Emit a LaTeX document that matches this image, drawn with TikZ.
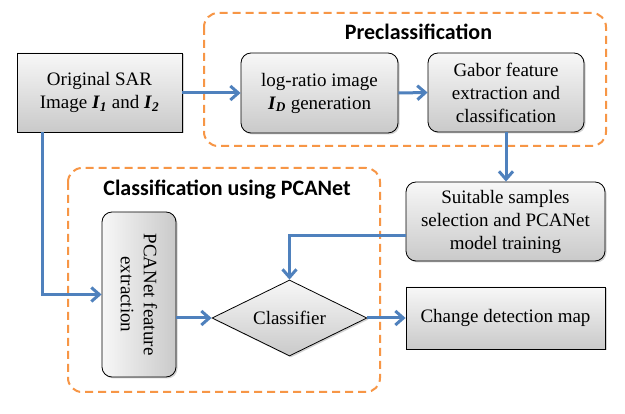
\documentclass[tikz,border=0pt]{standalone}
\usepackage{fontspec}
\setmainfont{Liberation Serif}
\setsansfont{Carlito}
\usetikzlibrary{shapes.geometric,arrows.meta,shadows}
\definecolor{arrowblue}{HTML}{4F81BD}
\definecolor{dashorange}{HTML}{F79646}
\newcommand\myI[1]{\textbf{\textit{I}}\textsubscript{\textbf{\textit{#1}}}}
\begin{document}
\fontsize{19}{23}\selectfont
\begin{tikzpicture}[x=1pt,y=-1pt,
  box/.style={draw=black, line width=0.8pt, top color=gray!6, bottom color=gray!42,
    align=center, inner sep=0pt,
    drop shadow={shadow xshift=1.5pt, shadow yshift=-1.5pt, opacity=0.35}},
  rbox/.style={box, rounded corners=10pt},
  flow/.style={draw=arrowblue, line width=3pt, -{Straight Barb[length=8pt,width=14pt]}},
  group/.style={draw=dashorange, line width=2pt, dash pattern=on 8pt off 5pt, rounded corners=14pt},
  grouptitle/.style={font=\sffamily\bfseries\fontsize{22}{26}\selectfont}]
\fill[white] (0,0) rectangle (625,414);
\useasboundingbox (0,0) rectangle (625,414);

\draw[group] (204,13) rectangle (606,146);
\draw[group] (68,168) rectangle (380,392);

\node[box, minimum width=165pt, minimum height=79pt] (sar) at (99.5,92.5) {Original SAR\\Image \myI{1} and \myI{2}};
\node[rbox, minimum width=157pt, minimum height=80pt] (logr) at (319.5,93) {log-ratio image\\\myI{D} generation};
\node[rbox, minimum width=156pt, minimum height=79pt] (gabor) at (506,92.5) {Gabor feature\\extraction and\\classification};
\node[rbox, minimum width=199pt, minimum height=79pt] (suit) at (505.5,221.5) {Suitable samples\\selection and PCANet\\model training};
\node[rbox, rotate=-90, left color=gray!6, right color=gray!42, minimum width=165pt, minimum height=74pt] (pca) at (139,294.5) {PCANet feature\\extraction};
\node[box, diamond, aspect=2, minimum width=155pt, minimum height=76pt] (cls) at (289.5,318) {Classifier};
\node[box, minimum width=199pt, minimum height=62pt] (change) at (505.5,318) {Change detection map};

\node[grouptitle] (pret) at (418.5,32) {Preclassification};
\node[grouptitle] (cgrpt) at (227,190) {Classification using PCANet};

\draw[flow] (sar.east |- logr.west) -- (logr.west);
\draw[flow] (logr.east) -- (gabor.west);
\draw[flow] (gabor.south) -- (gabor.south |- suit.north);
\draw[flow] ([xshift=-57.5pt]sar.south) |- (pca.south);
\draw[flow] ([yshift=-14.5pt]suit.west) -| (cls.north);
\draw[flow] (pca.north |- cls.west) -- (cls.west);
\draw[flow] (cls.east) -- (change.west);
\end{tikzpicture}
\end{document}
